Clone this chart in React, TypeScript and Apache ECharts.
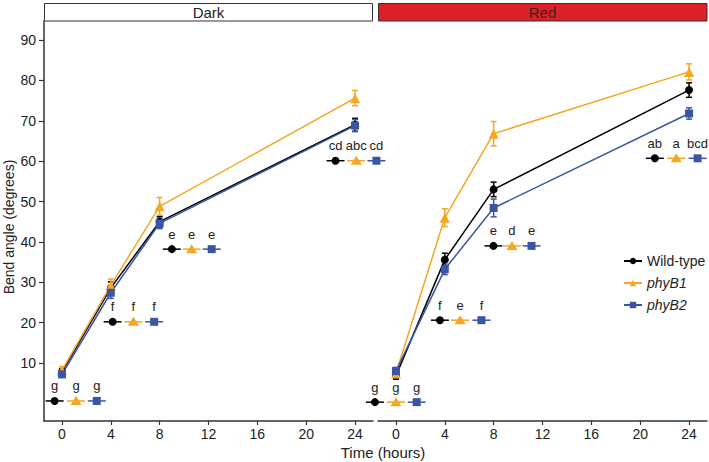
import React, { useEffect, useRef } from 'react';
import * as echarts from 'echarts';

const times = [0, 4, 8, 24];
const xTicks = [0, 4, 8, 12, 16, 20, 24];
const yTicks = [10, 20, 30, 40, 50, 60, 70, 80, 90];
const genotypes = ['Wild-type', 'phyB1', 'phyB2'];

// Dark panel means and SE
const darkWT = [7.8, 28.6, 45.0, 69.0];
const darkWTErr = [0.8, 1.5, 1.3, 1.6];
const darkB1 = [8.2, 29.2, 48.8, 75.6];
const darkB1Err = [0.9, 1.6, 2.2, 1.9];
const darkB2 = [7.2, 27.4, 44.6, 68.8];
const darkB2Err = [0.8, 1.4, 1.3, 1.5];

// Red panel means and SE
const redWT = [6.8, 35.6, 53.0, 77.6];
const redWTErr = [0.8, 1.6, 1.8, 1.8];
const redB1 = [7.4, 46.0, 66.8, 82.1];
const redB1Err = [0.9, 2.2, 3.0, 2.0];
const redB2 = [8.0, 33.2, 48.4, 71.8];
const redB2Err = [0.9, 1.3, 2.2, 1.4];

// significance letter groups (anchor positions in data units)
const darkLetterY = [0.6, 20.2, 38.2, 60.1];
const darkLetterXWT = [-0.6, 4.15, 9.0, 22.4];
const darkLetterXB1 = [1.15, 5.85, 10.62, 24.1];
const darkLetterXB2 = [2.85, 7.55, 12.26, 25.75];
const darkLettersWT = ['g', 'f', 'e', 'cd'];
const darkLettersB1 = ['g', 'f', 'e', 'abc'];
const darkLettersB2 = ['g', 'f', 'e', 'cd'];

const redLetterY = [0.3, 20.6, 39.0, 60.7];
const redLetterXWT = [-1.72, 3.6, 7.98, 21.2];
const redLetterXB1 = [0, 5.25, 9.5, 22.95];
const redLetterXB2 = [1.7, 7.0, 11.1, 24.7];
const redLettersWT = ['g', 'f', 'e', 'ab'];
const redLettersB1 = ['g', 'e', 'd', 'a'];
const redLettersB2 = ['g', 'f', 'e', 'bcd'];

const FONT = '"Liberation Sans", Arial, Helvetica, sans-serif';
const colors = ['#000000', '#F5A623', '#3A55A4'];
const symbols = ['circle', 'triangle', 'rect'];
const symbolSizes = [8, 10, 8];

function markerShape(idx: number, cx: number, cy: number, c: string): any {
  if (idx === 0) return { type: 'circle', shape: { cx, cy, r: 4 }, style: { fill: c } };
  if (idx === 1)
    return {
      type: 'polygon',
      shape: { points: [[cx, cy - 5], [cx + 5.5, cy + 4], [cx - 5.5, cy + 4]] },
      style: { fill: c },
    };
  return { type: 'rect', shape: { x: cx - 4, y: cy - 4, width: 8, height: 8 }, style: { fill: c } };
}

function errorSeries(grid: number, gi: number, vals: number[], errs: number[]): any {
  const c = colors[gi];
  return {
    type: 'custom',
    name: 'err-' + grid + '-' + gi,
    xAxisIndex: grid,
    yAxisIndex: grid,
    clip: false,
    z: 3,
    data: times.map((t, i) => [t, vals[i], errs[i]]),
    renderItem: (params: any, api: any) => {
      const x = api.value(0);
      const y = api.value(1);
      const e = api.value(2);
      const top = api.coord([x, y + e]);
      const bot = api.coord([x, y - e]);
      const st = { stroke: c, lineWidth: 1.5 };
      return {
        type: 'group',
        children: [
          { type: 'line', shape: { x1: top[0], y1: top[1], x2: bot[0], y2: bot[1] }, style: st },
          { type: 'line', shape: { x1: top[0] - 3, y1: top[1], x2: top[0] + 3, y2: top[1] }, style: st },
          { type: 'line', shape: { x1: bot[0] - 3, y1: bot[1], x2: bot[0] + 3, y2: bot[1] }, style: st },
        ],
      };
    },
  };
}

function letterSeries(grid: number, gi: number, xs: number[], ys: number[], letters: string[]): any {
  const c = colors[gi];
  return {
    type: 'custom',
    name: 'let-' + grid + '-' + gi,
    xAxisIndex: grid,
    yAxisIndex: grid,
    clip: false,
    z: 4,
    data: xs.map((x, i) => [x, ys[i]]),
    renderItem: (params: any, api: any) => {
      const p = api.coord([api.value(0), api.value(1)]);
      return {
        type: 'group',
        children: [
          { type: 'line', shape: { x1: p[0] - 9, y1: p[1], x2: p[0] + 9, y2: p[1] }, style: { stroke: c, lineWidth: 1.5 } },
          markerShape(gi, p[0], p[1], c),
          {
            type: 'text',
            x: p[0],
            y: p[1] - 15,
            style: {
              text: letters[params.dataIndex],
              fill: '#222',
              font: '13px ' + FONT,
              align: 'center',
              verticalAlign: 'middle',
              textAlign: 'center',
              textVerticalAlign: 'middle',
            },
          },
        ],
      };
    },
  };
}

function lineSeries(grid: number, gi: number, vals: number[]): any {
  const c = colors[gi];
  return {
    type: 'line',
    name: genotypes[gi],
    xAxisIndex: grid,
    yAxisIndex: grid,
    data: times.map((t, i) => [t, vals[i]]),
    symbol: symbols[gi],
    symbolSize: symbolSizes[gi],
    showAllSymbol: true,
    itemStyle: { color: c, opacity: 1 },
    lineStyle: { color: c, width: 1.5 },
    z: 5,
  };
}

const X_MIN = -1.47;
const X_MAX = 25.47;
const Y_MIN = -4.37;
const Y_MAX = 94.71;

function xAxis(grid: number): any {
  return {
    type: 'value',
    gridIndex: grid,
    min: X_MIN,
    max: X_MAX,
    splitLine: { show: false },
    axisLine: { show: true, onZero: false, lineStyle: { color: '#333', width: 1.5 } },
    axisTick: { show: true, length: 4, customValues: xTicks, lineStyle: { color: '#333', width: 1.2 } },
    axisLabel: { customValues: xTicks, margin: 6, fontSize: 14, color: '#222', fontFamily: FONT },
  };
}

export default function App() {
  const ref = useRef<HTMLDivElement>(null);
  useEffect(() => {
    document.body.style.margin = '0';
    const chart = echarts.init(ref.current!, null, { renderer: 'svg' });
    const option: any = {
      animation: false,
      backgroundColor: '#ffffff',
      grid: [
        { left: 44, top: 21, width: 329, height: 400 },
        { left: 378, top: 21, width: 329, height: 400 },
      ],
      xAxis: [xAxis(0), xAxis(1)],
      yAxis: [
        {
          type: 'value',
          gridIndex: 0,
          min: Y_MIN,
          max: Y_MAX,
          splitLine: { show: false },
          axisLine: { show: true, onZero: false, lineStyle: { color: '#333', width: 1.5 } },
          axisTick: { show: true, length: 5, customValues: yTicks, lineStyle: { color: '#333', width: 1.2 } },
          axisLabel: { customValues: yTicks, margin: 8, fontSize: 14, color: '#222', fontFamily: FONT },
        },
        { type: 'value', gridIndex: 1, min: Y_MIN, max: Y_MAX, show: false },
      ],
      legend: {
        orient: 'vertical',
        left: 618,
        top: 249,
        itemWidth: 18,
        itemHeight: 8,
        itemGap: 8,
        data: genotypes,
        formatter: (name: string) => (name === 'Wild-type' ? name : '{i|' + name + '}'),
        textStyle: {
          fontSize: 14,
          color: '#222',
          fontFamily: FONT,
          rich: { i: { fontStyle: 'italic', fontSize: 14, fontFamily: FONT, color: '#222' } },
        },
      },
      graphic: [
        {
          type: 'rect',
          shape: { x: 44.5, y: 3.5, width: 328, height: 17.5 },
          style: { fill: '#ffffff', stroke: '#333', lineWidth: 1 },
        },
        {
          type: 'text',
          x: 208.5,
          y: 12.5,
          style: { text: 'Dark', font: '15px ' + FONT, fill: '#222', align: 'center', verticalAlign: 'middle', textAlign: 'center', textVerticalAlign: 'middle' },
        },
        {
          type: 'rect',
          shape: { x: 378.5, y: 3.5, width: 328.5, height: 17.5 },
          style: { fill: '#DD2027', stroke: '#333', lineWidth: 1 },
        },
        {
          type: 'text',
          x: 542.5,
          y: 12.5,
          style: { text: 'Red', font: '15px ' + FONT, fill: '#3a2424', align: 'center', verticalAlign: 'middle', textAlign: 'center', textVerticalAlign: 'middle' },
        },
        {
          type: 'text',
          x: 383,
          y: 452,
          style: { text: 'Time (hours)', font: '15px ' + FONT, fill: '#222', align: 'center', verticalAlign: 'middle', textAlign: 'center', textVerticalAlign: 'middle' },
        },
        {
          type: 'text',
          x: 9,
          y: 227,
          rotation: Math.PI / 2,
          style: { text: 'Bend angle (degrees)', font: '14px ' + FONT, fill: '#222', align: 'center', verticalAlign: 'middle', textAlign: 'center', textVerticalAlign: 'middle' },
        },
      ],
      series: [
        errorSeries(0, 0, darkWT, darkWTErr),
        errorSeries(0, 1, darkB1, darkB1Err),
        errorSeries(0, 2, darkB2, darkB2Err),
        lineSeries(0, 0, darkWT),
        lineSeries(0, 1, darkB1),
        lineSeries(0, 2, darkB2),
        errorSeries(1, 0, redWT, redWTErr),
        errorSeries(1, 1, redB1, redB1Err),
        errorSeries(1, 2, redB2, redB2Err),
        lineSeries(1, 0, redWT),
        lineSeries(1, 1, redB1),
        lineSeries(1, 2, redB2),
        letterSeries(0, 0, darkLetterXWT, darkLetterY, darkLettersWT),
        letterSeries(0, 1, darkLetterXB1, darkLetterY, darkLettersB1),
        letterSeries(0, 2, darkLetterXB2, darkLetterY, darkLettersB2),
        letterSeries(1, 0, redLetterXWT, redLetterY, redLettersWT),
        letterSeries(1, 1, redLetterXB1, redLetterY, redLettersB1),
        letterSeries(1, 2, redLetterXB2, redLetterY, redLettersB2),
      ],
    };
    chart.setOption(option);
    return () => chart.dispose();
  }, []);
  return <div ref={ref} style={{ width: 709, height: 462 }} />;
}
